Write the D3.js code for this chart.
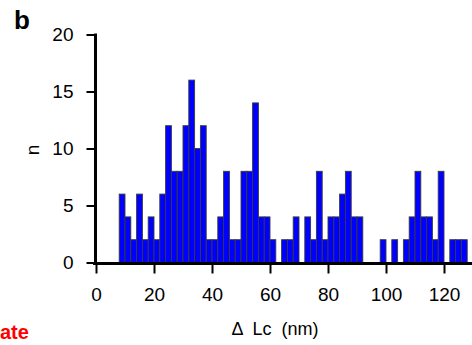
<!DOCTYPE html>
<html>
<head>
<meta charset="utf-8">
<script src="https://cdn.jsdelivr.net/npm/d3@7"></script>
<style>
  html, body { margin: 0; padding: 0; background: #fff; }
  svg { display: block; font-family: "Liberation Sans", Arial, sans-serif; }
</style>
</head>
<body>
<svg id="chart" width="472" height="345"></svg>
<script>
// Histogram of contour-length increments, 2 nm bins (left edges in nm)
const binStarts = [8, 10, 12, 14, 16, 18, 20, 22, 24, 26, 28, 30, 32, 34, 36, 38, 40, 42, 44, 46,
                   48, 50, 52, 54, 56, 58, 60, 62, 64, 66, 68, 70, 72, 74, 76, 78, 80, 82, 84, 86,
                   88, 90, 92, 94, 96, 98, 100, 102, 104, 106, 108, 110, 112, 114, 116, 118, 120, 122, 124, 126];
const counts    = [6, 4, 2, 6, 2, 4, 2, 6, 12, 8, 8, 12, 16, 10, 12, 2, 2, 4, 8, 2,
                   2, 8, 8, 14, 4, 4, 2, 0, 2, 2, 4, 0, 4, 2, 8, 2, 4, 4, 6, 8,
                   4, 4, 0, 0, 0, 2, 0, 2, 0, 2, 4, 8, 4, 4, 2, 8, 0, 2, 2, 2];
const binWidth = 2;
const xTicks = [0, 20, 40, 60, 80, 100, 120];
const yTicks = [0, 5, 10, 15, 20];

const svg = d3.select("#chart");
const x = d3.scaleLinear().domain([0, 130]).range([96, 473]);
const y = d3.scaleLinear().domain([0, 20]).range([262.5, 34.5]);

// bars
svg.append("g")
  .selectAll("rect")
  .data(binStarts.map((s, i) => ({ s, n: counts[i] })).filter(d => d.n > 0))
  .join("rect")
  .attr("x", d => x(d.s))
  .attr("y", d => y(d.n))
  .attr("width", d => x(d.s + binWidth) - x(d.s))
  .attr("height", d => y(0) - y(d.n))
  .attr("fill", "#0000ff")
  .attr("stroke", "#3a3a3a")
  .attr("stroke-width", 0.9);

// x axis
const xAxis = svg.append("g")
  .attr("transform", `translate(0,${y(0) + 1})`)
  .call(d3.axisBottom(x).tickValues(xTicks).tickSize(10).tickSizeOuter(0).tickPadding(14));
xAxis.select(".domain").remove();
xAxis.selectAll(".tick line").attr("stroke", "#000").attr("stroke-width", 2);
xAxis.selectAll(".tick text").attr("font-size", 19).attr("fill", "#000")
  .attr("font-family", "'Liberation Sans', Arial, sans-serif");

// y axis
const yAxis = svg.append("g")
  .attr("transform", `translate(${x(0) - 0.5},0)`)
  .call(d3.axisLeft(y).tickValues(yTicks).tickSize(9).tickSizeOuter(0).tickPadding(13));
yAxis.select(".domain").remove();
yAxis.selectAll(".tick line").attr("stroke", "#000").attr("stroke-width", 2);
yAxis.selectAll(".tick text").attr("font-size", 19).attr("fill", "#000")
  .attr("font-family", "'Liberation Sans', Arial, sans-serif");

// axis lines
svg.append("line")
  .attr("x1", x(0) - 3).attr("x2", 472)
  .attr("y1", y(0) + 1).attr("y2", y(0) + 1)
  .attr("stroke", "#000").attr("stroke-width", 3);
svg.append("line")
  .attr("x1", x(0) - 0.5).attr("x2", x(0) - 0.5)
  .attr("y1", y(20) - 1).attr("y2", y(0) + 2)
  .attr("stroke", "#000").attr("stroke-width", 3);

// axis titles
svg.append("text")
  .attr("x", 275).attr("y", 335)
  .attr("text-anchor", "middle")
  .attr("font-size", 18)
  .style("white-space", "pre")
  .text("\u0394  Lc  (nm)");
svg.append("text")
  .attr("transform", "translate(39,150) rotate(-90)")
  .attr("text-anchor", "middle")
  .attr("font-size", 19)
  .text("n");

// panel letter
svg.append("text")
  .attr("x", 14).attr("y", 29)
  .attr("font-size", 26).attr("font-weight", "bold")
  .text("b");

// neighbouring heading at the bottom edge
svg.append("text")
  .attr("x", 0).attr("y", 339)
  .attr("font-size", 20).attr("font-weight", "bold")
  .attr("fill", "#ff0000")
  .text("ate");
</script>
</body>
</html>
